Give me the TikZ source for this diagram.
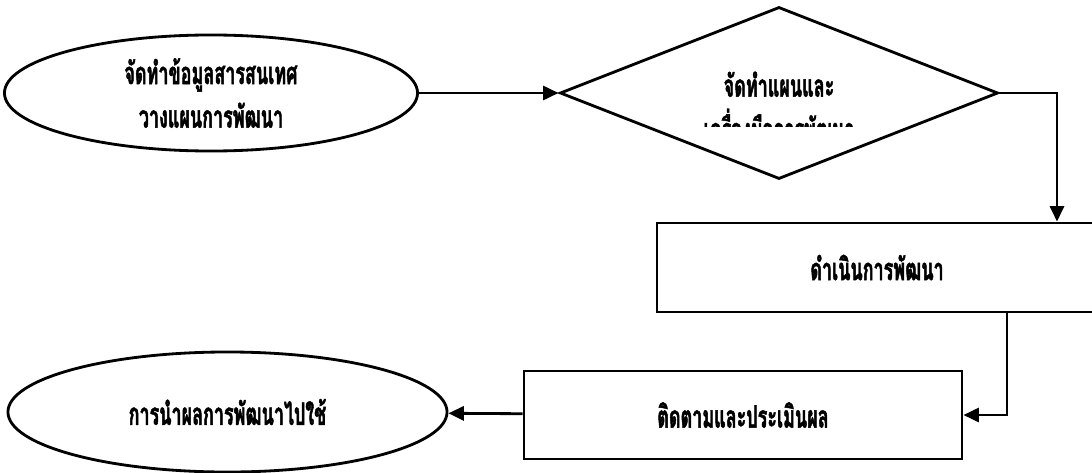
\documentclass[tikz,border=0pt]{standalone}
\usepackage{fontspec}
\newfontfamily\thaifont[Script=Thai,FakeStretch=0.58,BoldFeatures={FakeBold=1.5}]{Loma}
\usetikzlibrary{positioning,shapes.geometric,arrows.meta}

\begin{document}
\begin{tikzpicture}[x=0.025cm,y=-0.025cm,line width=2pt,
  every node/.style={font=\thaifont\bfseries\fontsize{22}{31}\selectfont,align=center},
  oval/.style={draw,ellipse,inner sep=0pt},
  decision/.style={draw,diamond,inner sep=0pt},
  stage/.style={draw,rectangle,inner sep=0pt},
  link/.style={-{Triangle[length=11pt,width=10pt]}}]
  \useasboundingbox (0,0) rectangle (1092,473);
	\node[oval,minimum width=10.325cm,minimum height=2.9cm] (info) at (211,93) {จัดทำข้อมูลสารสนเทศ\\วางแผนการพัฒนา};
	\node[decision,minimum width=10.95cm,minimum height=4.3cm] (plan) at (779,93) {};
	\begin{scope}
		\clip (640,50) rectangle (920,126);
		\node (plantext) at (779,106) {จัดทำแผนและ\\เครื่องมือการพัฒนา};
	\end{scope}
	\node[stage,minimum width=11cm,minimum height=2.225cm] (run) at (877,267.5) {ดำเนินการพัฒนา};
	\node[stage,minimum width=10.95cm,minimum height=2.2cm] (eval) at (743,415) {ติดตามและประเมินผล};
	\node[oval,minimum width=10.975cm,minimum height=3cm] (use) at (227.5,412) {การนำผลการพัฒนาไปใช้};
	\coordinate (bendA) at (1057,93);
	\coordinate (bendB) at (1007,415);
    \draw[link] (info) -- (plan);
    \draw[link] (plan.east) -- (bendA) -- (bendA |- run.north);
    \draw[link] (bendB |- run.south) -- (bendB) -- (eval.east);
    \draw[link] (eval) -- (use);
\end{tikzpicture}
\end{document}
